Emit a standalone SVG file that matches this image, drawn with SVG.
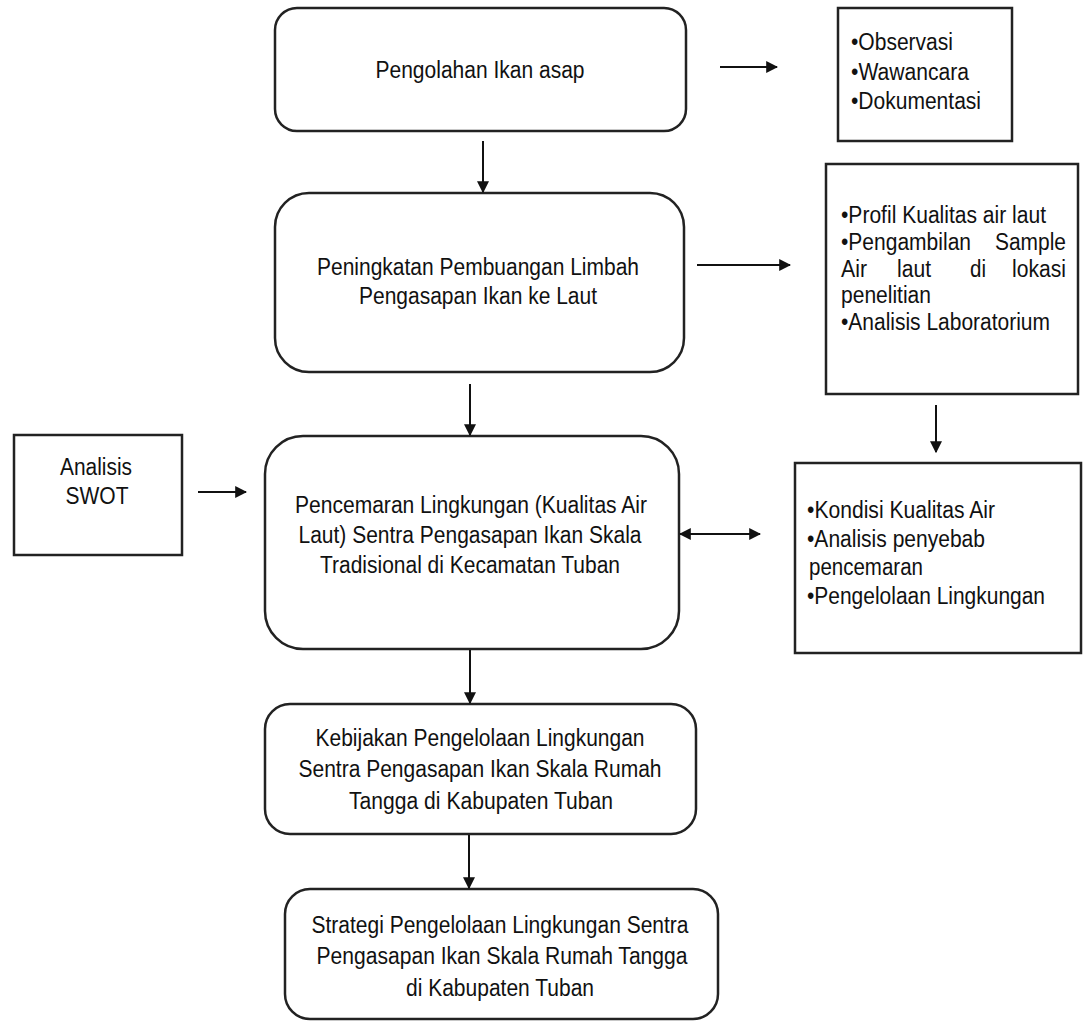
<svg xmlns="http://www.w3.org/2000/svg" width="1083" height="1022" viewBox="0 0 1083 1022">
  <style>
    .box { fill: #ffffff; stroke: #222222; stroke-width: 2.5; }
    .lbl { font-family: "Liberation Sans", Arial, sans-serif; font-size: 23px; fill: #111111; }
    .mid { text-anchor: middle; }
    .end { text-anchor: end; }
    .edge { stroke: #111111; stroke-width: 2; fill: none; }
  </style>
  <defs>
    <marker id="head" viewBox="0 0 10 10" refX="9" refY="5" markerWidth="6" markerHeight="6" orient="auto-start-reverse" markerUnits="strokeWidth">
      <path d="M0,0 L10,5 L0,10 z" fill="#111111"/>
    </marker>
  </defs>
  <rect width="1083" height="1022" fill="#ffffff"/>

  <!-- main chain (labels are narrow: textLength squeezes the 23px face) -->
  <g id="pengolahan">
    <rect class="box" x="275" y="8" width="411" height="123" rx="22"/>
    <text class="lbl mid" x="480" y="78" textLength="209" lengthAdjust="spacingAndGlyphs">Pengolahan Ikan asap</text>
  </g>

  <g id="peningkatan">
    <rect class="box" x="275" y="193" width="409" height="179" rx="34"/>
    <text class="lbl mid" x="478" y="275" textLength="322" lengthAdjust="spacingAndGlyphs">Peningkatan Pembuangan Limbah</text>
    <text class="lbl mid" x="478" y="304" textLength="238" lengthAdjust="spacingAndGlyphs">Pengasapan Ikan ke Laut</text>
  </g>

  <g id="pencemaran">
    <rect class="box" x="265" y="436" width="414" height="213" rx="38"/>
    <text class="lbl mid" x="471" y="513" textLength="352" lengthAdjust="spacingAndGlyphs">Pencemaran Lingkungan (Kualitas Air</text>
    <text class="lbl mid" x="470" y="543" textLength="343" lengthAdjust="spacingAndGlyphs">Laut) Sentra Pengasapan Ikan Skala</text>
    <text class="lbl mid" x="470" y="573" textLength="300" lengthAdjust="spacingAndGlyphs">Tradisional di Kecamatan Tuban</text>
  </g>

  <g id="kebijakan">
    <rect class="box" x="265" y="704" width="431" height="130" rx="25"/>
    <text class="lbl mid" x="480" y="746" textLength="329" lengthAdjust="spacingAndGlyphs">Kebijakan Pengelolaan Lingkungan</text>
    <text class="lbl mid" x="480" y="777" textLength="363" lengthAdjust="spacingAndGlyphs">Sentra Pengasapan Ikan Skala Rumah</text>
    <text class="lbl mid" x="481" y="809" textLength="264" lengthAdjust="spacingAndGlyphs">Tangga di Kabupaten Tuban</text>
  </g>

  <g id="strategi">
    <rect class="box" x="285" y="889" width="433" height="130" rx="25"/>
    <text class="lbl mid" x="500" y="933" textLength="377" lengthAdjust="spacingAndGlyphs">Strategi Pengelolaan Lingkungan Sentra</text>
    <text class="lbl mid" x="502" y="964" textLength="371" lengthAdjust="spacingAndGlyphs">Pengasapan Ikan Skala Rumah Tangga</text>
    <text class="lbl mid" x="500" y="996" textLength="188" lengthAdjust="spacingAndGlyphs">di Kabupaten Tuban</text>
  </g>

  <!-- side boxes -->
  <g id="metode">
    <rect class="box" x="838" y="8" width="174" height="133"/>
    <text class="lbl" x="851" y="50" textLength="102" lengthAdjust="spacingAndGlyphs">•Observasi</text>
    <text class="lbl" x="851" y="80" textLength="118" lengthAdjust="spacingAndGlyphs">•Wawancara</text>
    <text class="lbl" x="851" y="109" textLength="130" lengthAdjust="spacingAndGlyphs">•Dokumentasi</text>
  </g>

  <g id="profil">
    <rect class="box" x="826" y="164" width="252" height="230"/>
    <text class="lbl" x="841" y="223" textLength="205" lengthAdjust="spacingAndGlyphs">•Profil Kualitas air laut</text>
    <text class="lbl" x="841" y="250" textLength="130" lengthAdjust="spacingAndGlyphs">•Pengambilan</text>
    <text class="lbl end" x="1066" y="250" textLength="71" lengthAdjust="spacingAndGlyphs">Sample</text>
    <text class="lbl" x="841" y="277" textLength="26" lengthAdjust="spacingAndGlyphs">Air</text>
    <text class="lbl" x="897" y="277" textLength="34" lengthAdjust="spacingAndGlyphs">laut</text>
    <text class="lbl" x="970" y="277" textLength="16" lengthAdjust="spacingAndGlyphs">di</text>
    <text class="lbl end" x="1066" y="277" textLength="54" lengthAdjust="spacingAndGlyphs">lokasi</text>
    <text class="lbl" x="841" y="303" textLength="90" lengthAdjust="spacingAndGlyphs">penelitian</text>
    <text class="lbl" x="841" y="330" textLength="209" lengthAdjust="spacingAndGlyphs">•Analisis Laboratorium</text>
  </g>

  <g id="swot">
    <rect class="box" x="14" y="435" width="168" height="120"/>
    <text class="lbl mid" x="96" y="475" textLength="72" lengthAdjust="spacingAndGlyphs">Analisis</text>
    <text class="lbl mid" x="97" y="504" textLength="63" lengthAdjust="spacingAndGlyphs">SWOT</text>
  </g>

  <g id="kondisi">
    <rect class="box" x="795" y="463" width="286" height="190"/>
    <text class="lbl" x="807" y="518" textLength="188" lengthAdjust="spacingAndGlyphs">•Kondisi Kualitas Air</text>
    <text class="lbl" x="807" y="547" textLength="178" lengthAdjust="spacingAndGlyphs">•Analisis penyebab</text>
    <text class="lbl" x="809" y="575" textLength="114" lengthAdjust="spacingAndGlyphs">pencemaran</text>
    <text class="lbl" x="807" y="604" textLength="238" lengthAdjust="spacingAndGlyphs">•Pengelolaan Lingkungan</text>
  </g>

  <!-- connectors -->
  <g id="connectors">
    <line class="edge" x1="720" y1="67" x2="777" y2="67" marker-end="url(#head)"/>
    <line class="edge" x1="483" y1="141" x2="483" y2="192" marker-end="url(#head)"/>
    <line class="edge" x1="697" y1="265" x2="790" y2="265" marker-end="url(#head)"/>
    <line class="edge" x1="470" y1="384" x2="470" y2="435" marker-end="url(#head)"/>
    <line class="edge" x1="936" y1="405" x2="936" y2="452" marker-end="url(#head)"/>
    <line class="edge" x1="198" y1="492" x2="246" y2="492" marker-end="url(#head)"/>
    <line class="edge" x1="680" y1="534" x2="760" y2="534" marker-start="url(#head)" marker-end="url(#head)"/>
    <line class="edge" x1="470" y1="650" x2="470" y2="703" marker-end="url(#head)"/>
    <line class="edge" x1="469" y1="835" x2="469" y2="888" marker-end="url(#head)"/>
  </g>
</svg>
